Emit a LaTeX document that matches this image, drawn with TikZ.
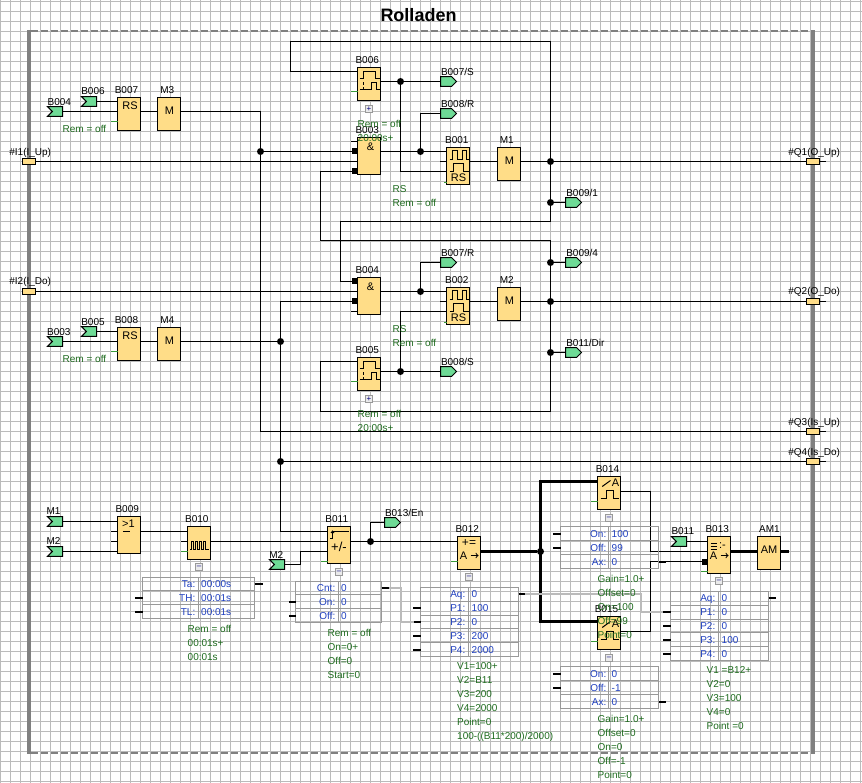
\documentclass[tikz,border=0pt]{standalone}
\usepackage{fontspec}
\setsansfont{Liberation Sans}
\usetikzlibrary{shapes.symbols}
\definecolor{amber}{HTML}{FFDD88}
\definecolor{mint}{HTML}{6EDB96}
\definecolor{moss}{HTML}{1E6B1E}
\definecolor{cobalt}{HTML}{2040C0}
\definecolor{ash}{HTML}{BBBBBB}
\definecolor{slate}{HTML}{808080}
\definecolor{tabgrey}{HTML}{999999}
\definecolor{pingreen}{HTML}{3A9A3A}
\tikzset{
  wire/.style={line width=1pt},
  fatwire/.style={line width=2.5pt},
  datawire/.style={line width=2pt, color=ash},
  tabstub/.style={line width=2pt},
  freepin/.style={line width=1pt, color=pingreen},
  block/.style={draw, fill=amber, line width=1pt, minimum width=23pt, minimum height=33pt, inner sep=0pt, outer sep=0pt, anchor=north west},
  tallblock/.style={block, minimum height=37pt},
  sym/.style={inner sep=0pt, font=\sffamily\fontsize{11}{12}\selectfont},
  tag/.style={inner sep=0pt, font=\sffamily\fontsize{10}{12}\selectfont},
  outtag/.style={tag, anchor=west},
  note/.style={inner sep=0pt, anchor=north west, align=left, text=moss, font=\sffamily\fontsize{10}{14}\selectfont},
  tablabel/.style={inner sep=0pt, anchor=north east, align=right, text=cobalt, font=\sffamily\fontsize{10}{14}\selectfont},
  tabvalue/.style={inner sep=0pt, anchor=north west, align=left, text=cobalt, font=\sffamily\fontsize{10}{14}\selectfont},
  tabframe/.style={draw=tabgrey, line width=1.5pt, inner sep=0pt, outer sep=0pt, anchor=north west},
  tabrule/.style={line width=1pt, color=tabgrey},
  joint/.style={circle, fill=black, inner sep=0pt, outer sep=0pt, minimum size=7pt},
  pinsq/.style={fill=black, inner sep=0pt, outer sep=0pt, minimum size=6pt},
  terminal/.style={draw, fill=amber, line width=1pt, inner sep=0pt, outer sep=0pt, minimum width=13pt, minimum height=6pt},
  inflag/.style={draw, fill=mint, line width=1pt, shape=signal, signal to=nowhere, signal from=west, inner sep=0pt, outer sep=0pt, minimum width=15pt, minimum height=9.6pt, anchor=east},
  outflag/.style={draw, fill=mint, line width=1pt, shape=signal, signal to=east, signal from=nowhere, inner sep=0pt, outer sep=0pt, minimum width=16pt, minimum height=9.6pt, anchor=west},
  btn/.style={draw=tabgrey, fill=black!8, line width=1pt, inner sep=0pt, outer sep=0pt, minimum size=7pt, text=blue!50!black, font=\sffamily\fontsize{8}{8}\selectfont}
}
\begin{document}
\begin{tikzpicture}[x=1pt, y=-1pt]
\useasboundingbox (-0.5,-0.5) rectangle (861.5,782.5);
\fill[white] (-0.5,-0.5) rectangle (861.5,782.5);

% Background grid
\draw[line width=1pt, color=ash, shift={(0,1)}, step=10pt] (0,-1) grid (861,781);

% Title
\node[inner sep=0pt, font=\sffamily\bfseries\fontsize{18}{20}\selectfont] (title) at (418,15) {Rolladen};

% Frame
\draw[line width=2pt, color=slate, dash pattern=on 7pt off 3pt] (30,31) -- (810,31);
\draw[line width=2pt, color=slate, dash pattern=on 7pt off 3pt] (30,752) -- (810,752);
\draw[line width=4pt, color=slate] (28,30) -- (28,753);
\draw[line width=4pt, color=slate] (812,30) -- (812,753);

% Terminals
\node[terminal] (i1) at (28.5,161) {};
\node[terminal] (i2) at (28.5,291) {};
\node[terminal] (q1) at (812.5,161) {};
\node[terminal] (q2) at (812.5,301) {};
\node[terminal] (q3) at (812.5,431) {};
\node[terminal] (q4) at (812.5,461) {};
\coordinate (q1end) at (825,161);
\coordinate (q2end) at (825,301);
\coordinate (q3end) at (825,431);
\coordinate (q4end) at (825,461);

% Upper blocks
\node[block] (b006) at (357,67) {};
\node[block] (b007) at (117,97) {};
\node[block] (m3) at (157,97) {};
\node[tallblock] (b003) at (357,137) {};
\node[tallblock] (b001) at (446,147) {};
\node[block] (m1) at (497,147) {};

% Middle blocks
\node[tallblock] (b004) at (357,277) {};
\node[tallblock] (b002) at (446,287) {};
\node[block] (m2) at (497,287) {};
\node[block] (b008) at (117,327) {};
\node[block] (m4) at (157,327) {};
\node[block] (b005) at (357,357) {};

% Lower blocks
\node[tallblock] (b009) at (117,516) {};
\node[block] (b010) at (187,526) {};
\node[tallblock] (b011) at (327,526) {};
\node[block] (b012) at (457,536) {};
\node[block] (b014) at (597,475.5) {};
\node[block] (b015) at (597,616) {};
\node[tallblock] (b013) at (707,536) {};
\node[block] (am1) at (757,536) {};

% Input flags
\node[inflag] (f004) at (62,111) {};
\node[inflag] (f006) at (96,101) {};
\node[inflag] (f003) at (62,341) {};
\node[inflag] (f005) at (96,331) {};
\node[inflag] (fm1) at (62,521) {};
\node[inflag] (fm2) at (62,551) {};
\node[inflag] (fm2b) at (284,564) {};
\node[inflag] (f011) at (686,541) {};

% Output flags
\node[outflag] (o007s) at (440,81) {};
\node[outflag] (o008r) at (440,113) {};
\node[outflag] (o0091) at (565,202) {};
\node[outflag] (o007r) at (440,262) {};
\node[outflag] (o0094) at (565,262) {};
\node[outflag] (o011d) at (565,352) {};
\node[outflag] (o008s) at (440,371) {};
\node[outflag] (o013e) at (384,522) {};

% Junctions
\node[joint] (j260) at (260,151) {};
\node[joint] (j280a) at (280,341) {};
\node[joint] (j280b) at (280,461) {};
\node[joint] (j400a) at (400,81) {};
\node[joint] (j420a) at (420,151) {};
\node[joint] (j550a) at (550,161) {};
\node[joint] (j550b) at (550,202) {};
\node[joint] (j550c) at (550,262) {};
\node[joint] (j550d) at (550,301) {};
\node[joint] (j550e) at (550,352) {};
\node[joint] (j420b) at (420,291) {};
\node[joint] (j400b) at (400,371) {};
\node[joint] (j370) at (370,541) {};
\node[joint] (j540) at (540,551) {};

% Square pins
\node[pinsq] (p003a) at (354,151) {};
\node[pinsq] (p003b) at (354,171) {};
\node[pinsq] (p004a) at (354,281) {};
\node[pinsq] (p004b) at (354,301) {};
\node[pinsq] (p013) at (704,561) {};

% Wire corners
\coordinate (c006a) at (290,41);
\coordinate (c006b) at (550,41);
\coordinate (c221a) at (340,221);
\coordinate (c221b) at (550,221);
\coordinate (c240a) at (320,240);
\coordinate (c240b) at (550,240);
\coordinate (c411a) at (320,411);
\coordinate (c411b) at (550,411);
\coordinate (c431) at (260,431);
\coordinate (c531) at (280,531);
\coordinate (c551) at (300,551);
\coordinate (c014) at (540,481);
\coordinate (c015) at (540,621);
\coordinate (c650a) at (650,551);
\coordinate (c650b) at (650,561);

% Feedback of B006 and outputs of M1
\draw[wire] (b006.west |- 0,71) -| (c006a) -- (c006b) -- (c221b) -- (c221a) |- (p004a);
\draw[wire] (b003.west |- p003b) -- (c240a |- p003b) -- (c240a) -- (c240b) -- (c411b) -- (c411a) |- (b005.west |- 0,361);

% Upper left
\draw[wire] (f006.east) -- (f006.east -| b007.west);
\draw[wire] (f004.east) -- (f004.east -| b007.west);
\draw[wire] (b007.east |- f004.east) -- (m3.west |- f004.east);
\draw[wire] (m3.east |- f004.east) -| (c431) -- (c431 -| q3.west);
\draw[wire] (j260) -- (j260 -| b003.west);
\draw[wire] (i1.east) -- (i1.east -| b003.west);
\draw[wire] (b003.west |- 0,141) -- ++(-7,0);

% Upper right
\draw[wire] (b006.east |- j400a) -- (o007s.west);
\draw[wire] (j400a) |- (b001.west |- 0,171);
\draw[wire] (b003.east |- j420a) -- (j420a -| b001.west);
\draw[wire] (j420a) |- (o008r.west);
\draw[wire] (b001.east |- j550a) -- (m1.west |- j550a);
\draw[wire] (m1.east |- j550a) -- (q1.west);
\draw[wire] (q1.east) -- (q1end);
\draw[wire] (j550b.west) -- (o0091.west);
\draw[wire] (b001.west |- j550a) -- ++(-7,0);

% Middle
\draw[wire] (i2.east) -- (i2.east -| b004.west);
\draw[wire] (b004.east |- j420b) -- (j420b -| b002.west);
\draw[wire] (j420b) |- (o007r.west);
\draw[wire] (b002.east |- j550d) -- (m2.west |- j550d);
\draw[wire] (m2.east |- j550d) -- (q2.west);
\draw[wire] (q2.east) -- (q2end);
\draw[wire] (j550c.west) -- (o0094.west);
\draw[wire] (j550e.west) -- (o011d.west);
\draw[wire] (b005.east |- j400b) -- (o008s.west);
\draw[wire] (j400b) |- (b002.west |- 0,311);
\draw[wire] (b002.west |- j550d) -- ++(-7,0);
\draw[wire] (b004.west |- 0,311) -- ++(-7,0);

% Lower left of the middle
\draw[wire] (f005.east) -- (f005.east -| b008.west);
\draw[wire] (f003.east) -- (f003.east -| b008.west);
\draw[wire] (b008.east |- j280a) -- (m4.west |- j280a);
\draw[wire] (m4.east |- j280a) -- (j280a);
\draw[wire] (p004b) -- (j280a |- p004b) -- (c531) -- (c531 -| b011.west);
\draw[wire] (b004.west |- p004b) -- (p004b);
\draw[wire] (j280b) -- (q4.west);
\draw[wire] (q3.east) -- (q3end);
\draw[wire] (q4.east) -- (q4end);

% Lower row
\draw[wire] (fm1.east) -- (fm1.east -| b009.west);
\draw[wire] (fm2.east) -- (fm2.east -| b009.west);
\draw[wire] (b009.west |- 0,531) -- ++(-7,0);
\draw[wire] (b009.west |- 0,541) -- ++(-7,0);
\draw[wire] (b009.east |- 0,531) -- (b010.west |- 0,531);
\draw[wire] (b010.west |- 0,541) -- ++(-7,0);
\draw[wire] (b010.east |- j370) -- (b011.west |- j370);
\draw[wire] (fm2b.east) -| (c551) -- (c551 -| b011.west);
\draw[wire] (b011.east |- j370) -- (j370 -| b012.west);
\draw[wire] (j370) |- (o013e.west);

% Analog wires
\draw[fatwire] (b012.east |- j540) -- (j540);
\draw[fatwire] (c014 -| b014.west) -- (c014) -- (c015) -- (c015 -| b015.west);
\draw[wire] (b014.east |- 0,491) -| (c650a) -- (c650a -| b013.west);
\draw[wire] (b015.east |- 0,631) -| (c650b) -- (p013);
\draw[wire] (f011.east) -- (f011.east -| b013.west);
\draw[fatwire] (b013.east |- j540) -- (am1.west |- j540);
\draw[fatwire] (am1.east |- j540) -- ++(8,0);

% Free pins
\draw[freepin] (b006.west |- 0,91) -- ++(-7,0);
\draw[freepin] (b007.west |- 0,121) -- ++(-7,0);
\draw[freepin] (b001.west |- 0,182) -- ++(-3,0);
\draw[freepin] (b002.west |- 0,322) -- ++(-3,0);
\draw[freepin] (b005.west |- 0,381) -- ++(-7,0);
\draw[freepin] (b008.west |- 0,351) -- ++(-7,0);
\draw[freepin] (b010.west |- 0,551) -- ++(-7,0);
\draw[freepin] (b011.west |- 0,561) -- ++(-7,0);
\draw[freepin] (b012.west |- 0,561) -- ++(-7,0);
\draw[freepin] (b014.west |- 0,501) -- ++(-7,0);
\draw[freepin] (b015.west |- 0,641) -- ++(-7,0);
\draw[freepin] (b013.west |- 0,571) -- ++(-7,0);

% Block symbols
\node[sym] (sb007) at (129.5,105) {RS};
\node[sym] (sm3) at (169,110) {M};
\node[sym] (sb003) at (370,146) {\&};
\node[sym] (sm1) at (509,160) {M};
\node[sym] (sb004) at (370,286) {\&};
\node[sym] (sm2) at (509,300) {M};
\node[sym] (sb008) at (129.5,335) {RS};
\node[sym] (sm4) at (169,340) {M};
\node[sym] (sb001) at (458,177) {RS};
\node[sym] (sb002) at (458,317) {RS};
\node[sym] (sb009) at (128,523) {>1};
\draw[wire] (122.3,531) -- (129,531);
\node[sym, font=\sffamily\fontsize{13}{14}\selectfont] (sb011) at (338.5,546) {+/-};
\node[sym, font=\sffamily\fontsize{12}{14}\selectfont] (sb012a) at (468.5,543) {+=};
\node[sym] (sb012b) at (463,555) {A};
\node[sym] (sb013b) at (713,555) {A};
\node[sym] (sb013a) at (722,545) {:-};
\node[sym] (sb014) at (615,482.5) {A};
\node[sym] (sb015) at (615,623) {A};
\node[sym] (sam1) at (768.5,549) {AM};

% B006 pulses
\draw[wire] (359.3,78) -- (363.3,78) -- (363.3,70.7) -- (374.7,70.7) -- (374.7,78) -- (379,78);
\draw[wire] (359.3,89.3) -- (371.3,89.3) -- (371.3,82) -- (376,82) -- (376,89.3) -- (379,89.3);
\draw[wire, densely dashed] (363.3,82) -- (363.3,89);

% B005 pulses
\draw[wire] (359.3,368) -- (363.3,368) -- (363.3,360.7) -- (374.7,360.7) -- (374.7,368) -- (379,368);
\draw[wire] (359.3,379.3) -- (371.3,379.3) -- (371.3,372) -- (376,372) -- (376,379.3) -- (379,379.3);
\draw[wire, densely dashed] (363.3,372) -- (363.3,379);

% B001 pulses
\draw[wire] (449,158.7) -- (451.7,158.7) -- (451.7,150) -- (456.7,150) -- (456.7,158.7) -- (461.7,158.7) -- (461.7,150) -- (466,150) -- (466,158.7) -- (468.7,158.7);
\draw[wire] (449,170.7) -- (453.3,170.7) -- (453.3,163.3) -- (462.7,163.3) -- (462.7,170.7) -- (468.7,170.7);

% B002 pulses
\draw[wire] (449,298.7) -- (451.7,298.7) -- (451.7,290) -- (456.7,290) -- (456.7,298.7) -- (461.7,298.7) -- (461.7,290) -- (466,290) -- (466,298.7) -- (468.7,298.7);
\draw[wire] (449,310.7) -- (453.3,310.7) -- (453.3,303.3) -- (462.7,303.3) -- (462.7,310.7) -- (468.7,310.7);

% B010 pulses
\draw[wire] (189.5,549.3) -- (191,549.3) -- (191,541) -- (193,541) -- (193,549.3) -- (195,549.3) -- (195,541) -- (197,541) -- (197,549.3) -- (199,549.3) -- (199,541) -- (201,541) -- (201,549.3) -- (203,549.3) -- (203,541) -- (205,541) -- (205,549.3) -- (208.5,549.3);

% B011 edge
\draw[wire] (329.5,537.7) -- (332,537.7) -- (332,530.7) -- (348,530.7);
\draw[wire] (330.5,532.5) -- (332,530.7) -- (333.5,532.5);

% A arrows
\draw[wire, ->] (470,555) -- (478,555);
\draw[wire, ->] (720,555) -- (728,555);

% B013 bars
\draw[wire] (710,543) -- (716,543);
\draw[wire] (710,546) -- (716,546);
\draw[wire] (710,549) -- (716,549);

% B014 and B015 ramps
\draw[wire] (601.7,486) -- (610,480);
\draw[wire] (600,498.3) -- (605.7,498.3) -- (605.7,490) -- (613.3,490) -- (613.3,498.3) -- (618.3,498.3);
\draw[wire] (601.7,627) -- (610,621);
\draw[wire] (600,639.3) -- (605.7,639.3) -- (605.7,631) -- (613.3,631) -- (613.3,639.3) -- (618.3,639.3);

% Expand buttons
\node[btn] (x006) at (368.5,108.5) {+};
\node[btn] (x005) at (368.5,398.5) {+};
\node[btn] (x010) at (198.5,566.5) {--};
\node[btn] (x011) at (338.5,571.5) {--};
\node[btn] (x012) at (468.5,576.5) {--};
\node[btn] (x014) at (608.5,517.5) {--};
\node[btn] (x015) at (608.5,657.5) {--};
\node[btn] (x013) at (718.5,580.5) {--};

% B010 table
\node[tabframe, minimum width=112pt, minimum height=41pt] (tab010) at (142,577) {};
\draw[tabrule] (142,590) -- (254,590);
\draw[tabrule] (142,604) -- (254,604);
\draw[tabrule] (198,577) -- (198,618);
\node[tablabel] (l010) at (195,580) {Ta:\\TH:\\TL:};
\node[tabvalue] (v010) at (200.5,580) {00:00s\\00:01s\\00:01s};
\draw[tabstub] (tab010.east |- 0,583) -- ++(8,0);
\draw[tabstub] (tab010.west |- 0,597) -- ++(-8,0);
\draw[tabstub] (tab010.west |- 0,611) -- ++(-8,0);

% B011 table
\node[tabframe, minimum width=86pt, minimum height=41pt] (tab011) at (295,581) {};
\draw[tabrule] (295,594) -- (381,594);
\draw[tabrule] (295,608) -- (381,608);
\draw[tabrule] (338,581) -- (338,622);
\node[tablabel] (l011) at (335,584) {Cnt:\\On:\\Off:};
\node[tabvalue] (v011) at (340.5,584) {0\\0\\0};
\draw[tabstub] (tab011.east |- 0,587) -- ++(7,0);
\draw[tabstub] (tab011.west |- 0,601) -- ++(-7,0);
\draw[tabstub] (tab011.west |- 0,615) -- ++(-7,0);

% B012 table
\node[tabframe, minimum width=98pt, minimum height=69pt] (tab012) at (420,587) {};
\draw[tabrule] (420,601) -- (518,601);
\draw[tabrule] (420,615) -- (518,615);
\draw[tabrule] (420,628) -- (518,628);
\draw[tabrule] (420,642) -- (518,642);
\draw[tabrule] (468,587) -- (468,656);
\node[tablabel] (l012) at (465,590) {Aq:\\P1:\\P2:\\P3:\\P4:};
\node[tabvalue] (v012) at (471,590) {0\\100\\0\\200\\2000};
\draw[tabstub] (tab012.east |- 0,593) -- ++(6,0);
\draw[tabstub] (tab012.west |- 0,607) -- ++(-8,0);
\draw[tabstub] (tab012.west |- 0,621) -- ++(-7,0);
\draw[tabstub] (tab012.west |- 0,635) -- ++(-8,0);
\draw[tabstub] (tab012.west |- 0,649) -- ++(-8,0);

% B014 table
\node[tabframe, minimum width=98pt, minimum height=42pt] (tab014) at (560,526) {};
\draw[tabrule] (560,540) -- (658,540);
\draw[tabrule] (560,554) -- (658,554);
\draw[tabrule] (608,526) -- (608,568);
\node[tablabel] (l014) at (606,530) {On:\\Off:\\Ax:};
\node[tabvalue] (v014) at (611,530) {100\\99\\0};
\draw[tabstub] (tab014.west |- 0,533) -- ++(-8,0);
\draw[tabstub] (tab014.west |- 0,547) -- ++(-8,0);
\draw[tabstub] (tab014.east |- 0,561) -- ++(7,0);

% B015 table
\node[tabframe, minimum width=98pt, minimum height=42pt] (tab015) at (560,666) {};
\draw[tabrule] (560,680) -- (658,680);
\draw[tabrule] (560,694) -- (658,694);
\draw[tabrule] (608,666) -- (608,708);
\node[tablabel] (l015) at (606,670) {On:\\Off:\\Ax:};
\node[tabvalue] (v015) at (611,670) {0\\-1\\0};
\draw[tabstub] (tab015.west |- 0,673) -- ++(-8,0);
\draw[tabstub] (tab015.west |- 0,687) -- ++(-8,0);
\draw[tabstub] (tab015.east |- 0,701) -- ++(7,0);

% B013 table
\node[tabframe, minimum width=98pt, minimum height=69pt] (tab013) at (670,591) {};
\draw[tabrule] (670,605) -- (768,605);
\draw[tabrule] (670,619) -- (768,619);
\draw[tabrule] (670,632) -- (768,632);
\draw[tabrule] (670,646) -- (768,646);
\draw[tabrule] (718,591) -- (718,660);
\node[tablabel] (l013) at (715,594) {Aq:\\P1:\\P2:\\P3:\\P4:};
\node[tabvalue] (v013) at (721,594) {0\\0\\0\\100\\0};
\draw[tabstub] (tab013.east |- 0,597) -- ++(7,0);
\draw[tabstub] (tab013.west |- 0,611) -- ++(-8,0);
\draw[tabstub] (tab013.west |- 0,625) -- ++(-8,0);
\draw[tabstub] (tab013.west |- 0,639) -- ++(-8,0);
\draw[tabstub] (tab013.west |- 0,653) -- ++(-8,0);

% Data links between tables
\coordinate (d011s) at (388,587);
\coordinate (d011a) at (400,587);
\coordinate (d011b) at (400,621);
\coordinate (d011e) at (413,621);
\coordinate (d012s) at (524,593);
\coordinate (d012a) at (640,593);
\coordinate (d012b) at (640,611);
\coordinate (d012e) at (662,611);
\draw[datawire] (d011s) -- (d011a) -- (d011b) -- (d011e);
\draw[datawire] (d012s) -- (d012a) -- (d012b) -- (d012e);

% Terminal labels
\node[tag] (ti1) at (29.7,152) {\#I1(I\_Up)};
\node[tag] (ti2) at (29.7,281.5) {\#I2(I\_Do)};
\node[tag] (tq1) at (813.7,152) {\#Q1(O\_Up)};
\node[tag] (tq2) at (813.7,291.5) {\#Q2(O\_Do)};
\node[tag] (tq3) at (813.7,422) {\#Q3(Is\_Up)};
\node[tag] (tq4) at (813.7,452) {\#Q4(Is\_Do)};

% Block labels
\node[tag] (t006) at (366.7,59.3) {B006};
\node[tag] (t007) at (126,89.5) {B007};
\node[tag] (tm3) at (166.7,89.5) {M3};
\node[tag] (t003) at (366.7,129.3) {B003};
\node[tag] (t001) at (456.3,139.3) {B001};
\node[tag] (tm1) at (506.3,139.3) {M1};
\node[tag] (t004) at (366.7,269.7) {B004};
\node[tag] (t002) at (456.3,279.3) {B002};
\node[tag] (tm2) at (506.3,279.3) {M2};
\node[tag] (t008) at (126,319.7) {B008};
\node[tag] (tm4) at (166.7,319.7) {M4};
\node[tag] (t005) at (366.7,349.3) {B005};
\node[tag] (t009) at (126.7,508.7) {B009};
\node[tag] (t010) at (196.3,518.7) {B010};
\node[tag] (t011) at (336.3,518.7) {B011};
\node[tag] (t012) at (466.7,528.7) {B012};
\node[tag] (t014) at (607,468.7) {B014};
\node[tag] (t015) at (606,608.3) {B015};
\node[tag] (t013) at (716.7,528.7) {B013};
\node[tag] (tam1) at (769,528.7) {AM1};

% Flag labels
\node[tag] (tf004) at (58.8,101.7) {B004};
\node[tag] (tf006) at (92.5,91) {B006};
\node[tag] (tf003) at (58.3,331.3) {B003};
\node[tag] (tf005) at (92.5,321.3) {B005};
\node[tag] (tfm1) at (53,510.3) {M1};
\node[tag] (tfm2) at (53,540.7) {M2};
\node[tag] (tfm2b) at (275.7,554.7) {M2};
\node[tag] (tf011) at (682.3,530.7) {B011};
\node[outtag] (to007s) at (440.3,71.7) {B007/S};
\node[outtag] (to008r) at (440.3,103.7) {B008/R};
\node[outtag] (to0091) at (565.6,192.7) {B009/1};
\node[outtag] (to007r) at (440.3,252.3) {B007/R};
\node[outtag] (to0094) at (565.6,252.3) {B009/4};
\node[outtag] (to011d) at (565.6,342.7) {B011/Dir};
\node[outtag] (to008s) at (440.3,361.3) {B008/S};
\node[outtag] (to013e) at (384.3,512.7) {B013/En};

% Block notes
\node[note] (n007) at (62,125) {Rem = off};
\node[note] (n008) at (62,355) {Rem = off};
\node[note] (n006) at (357,119.5) {Rem = off\\20:00s+};
\node[note] (n005) at (357,409.5) {Rem = off\\20:00s+};
\node[note] (n001) at (392,185) {RS\\Rem = off};
\node[note] (n002) at (392,324.5) {RS\\Rem = off};
\node[note] (n010) at (187,624.5) {Rem = off\\00:01s+\\00:01s};
\node[note] (n011) at (327,628.5) {Rem = off\\On=0+\\Off=0\\Start=0};
\node[note] (n012) at (456.5,661.5) {V1=100+\\V2=B11\\V3=200\\V4=2000\\Point=0\\100-((B11*200)/2000)};
\node[note] (n014) at (597,574.5) {Gain=1.0+\\Offset=0\\On=100\\Off=99\\Point=0};
\node[note] (n015) at (597,714.5) {Gain=1.0+\\Offset=0\\On=0\\Off=-1\\Point=0};
\node[note] (n013) at (706,665.5) {V1  =B12+\\V2=0\\V3=100\\V4=0\\Point =0};

\end{tikzpicture}
\end{document}
